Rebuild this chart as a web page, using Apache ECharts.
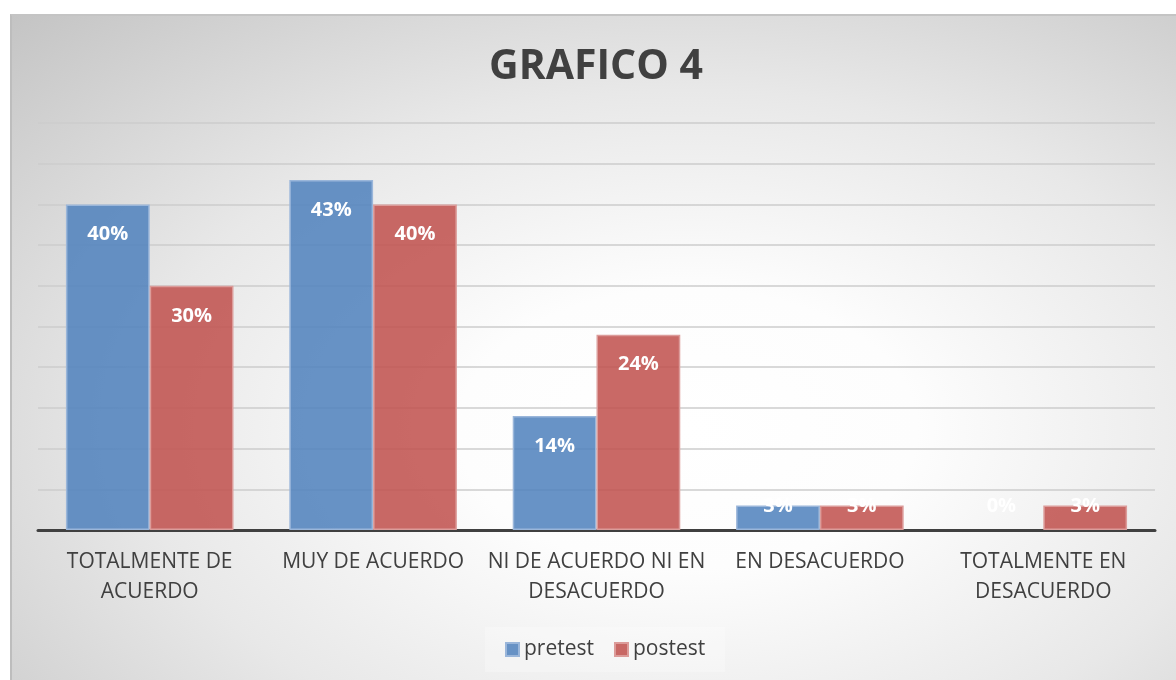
<!DOCTYPE html>
<html>
<head>
<meta charset="utf-8">
<script src="https://cdn.jsdelivr.net/npm/echarts@6/dist/echarts.min.js"></script>
<style>
  html, body { margin: 0; padding: 0; background: #fff; }
  #box {
    position: absolute; left: 10px; top: 14px; width: 1165px; height: 666px;
    border-left: 2px solid #bdbdbd; border-top: 2px solid #c4c4c4;
    background: radial-gradient(ellipse farthest-corner at 58% 62%, #ffffff 0%, #fdfdfd 24%, #e8e8e8 58%, #c4c4c4 100%);
  }
  #chart { position: absolute; left: 0; top: 0; width: 1176px; height: 680px; }
</style>
</head>
<body>
<div id="box"></div>
<div id="chart"></div>
<script>
// datos
const categorias = ['TOTALMENTE DE\nACUERDO', 'MUY DE ACUERDO', 'NI DE ACUERDO NI EN\nDESACUERDO', 'EN DESACUERDO', 'TOTALMENTE EN\nDESACUERDO']
const pretest = [40, 43, 14, 3, 0]
const postest = [30, 40, 24, 3, 3]

const font = 'Open Sans'

// etiquetas: dentro arriba, salvo barras muy bajas (como hace Excel)
function barData (values) {
  return values.map(v => {
    if (v === 0) {
      return { value: v, itemStyle: { borderWidth: 0 }, label: { position: 'insideBottom', distance: 12 } }
    }
    if (v < 6) {
      return { value: v, label: { position: 'insideBottom', distance: 12 } }
    }
    return v
  })
}

const labelStyle = {
  show: true,
  position: 'insideTop',
  distance: 18,
  color: '#fff',
  fontFamily: font,
  fontWeight: 'bold',
  fontSize: 20,
  lineHeight: 24,
  formatter: '{c}%'
}

let myChart = echarts.init(document.getElementById('chart'))
let option = {
  backgroundColor: 'transparent',
  animation: false,
  title: {
    text: 'GRAFICO 4',
    left: 484,
    top: 37,
    textStyle: {
      fontFamily: font,
      fontWeight: 'bold',
      fontSize: 41,
      lineHeight: 50,
      color: '#404040'
    }
  },
  legend: {
    data: ['pretest', 'postest'],
    bottom: 8,
    left: 485,
    icon: 'rect',
    itemWidth: 13,
    itemHeight: 13,
    itemGap: 20,
    padding: [12, 20],
    backgroundColor: 'rgba(255,255,255,0.25)',
    textStyle: {
      fontFamily: font,
      fontSize: 21,
      color: '#404040'
    }
  },
  grid: {
    left: 38,
    right: 21,
    top: 123,
    bottom: 150
  },
  xAxis: {
    type: 'category',
    data: categorias,
    axisTick: { show: false },
    axisLine: {
      lineStyle: { color: '#404040', width: 3 }
    },
    axisLabel: {
      margin: 17,
      fontFamily: font,
      fontSize: 21,
      lineHeight: 30,
      color: '#404040',
      interval: 0
    }
  },
  yAxis: {
    type: 'value',
    min: 0,
    max: 50,
    interval: 5,
    axisLabel: { show: false },
    axisLine: { show: false },
    axisTick: { show: false },
    splitLine: {
      lineStyle: { color: '#cccccc', width: 1.5 }
    }
  },
  series: [
    {
      name: 'pretest',
      type: 'bar',
      barGap: '0%',
      barCategoryGap: '25%',
      data: barData(pretest),
      itemStyle: {
        color: 'rgba(79,129,189,0.86)',
        borderColor: '#9ab6da',
        borderWidth: 1.5
      },
      label: labelStyle
    },
    {
      name: 'postest',
      type: 'bar',
      barGap: '0%',
      barCategoryGap: '25%',
      data: barData(postest),
      itemStyle: {
        color: 'rgba(192,80,77,0.86)',
        borderColor: '#dc9c9a',
        borderWidth: 1.5
      },
      label: labelStyle
    }
  ]
}
myChart.setOption(option, true)
window.addEventListener('resize', () => {
  myChart.resize()
})
</script>
</body>
</html>
